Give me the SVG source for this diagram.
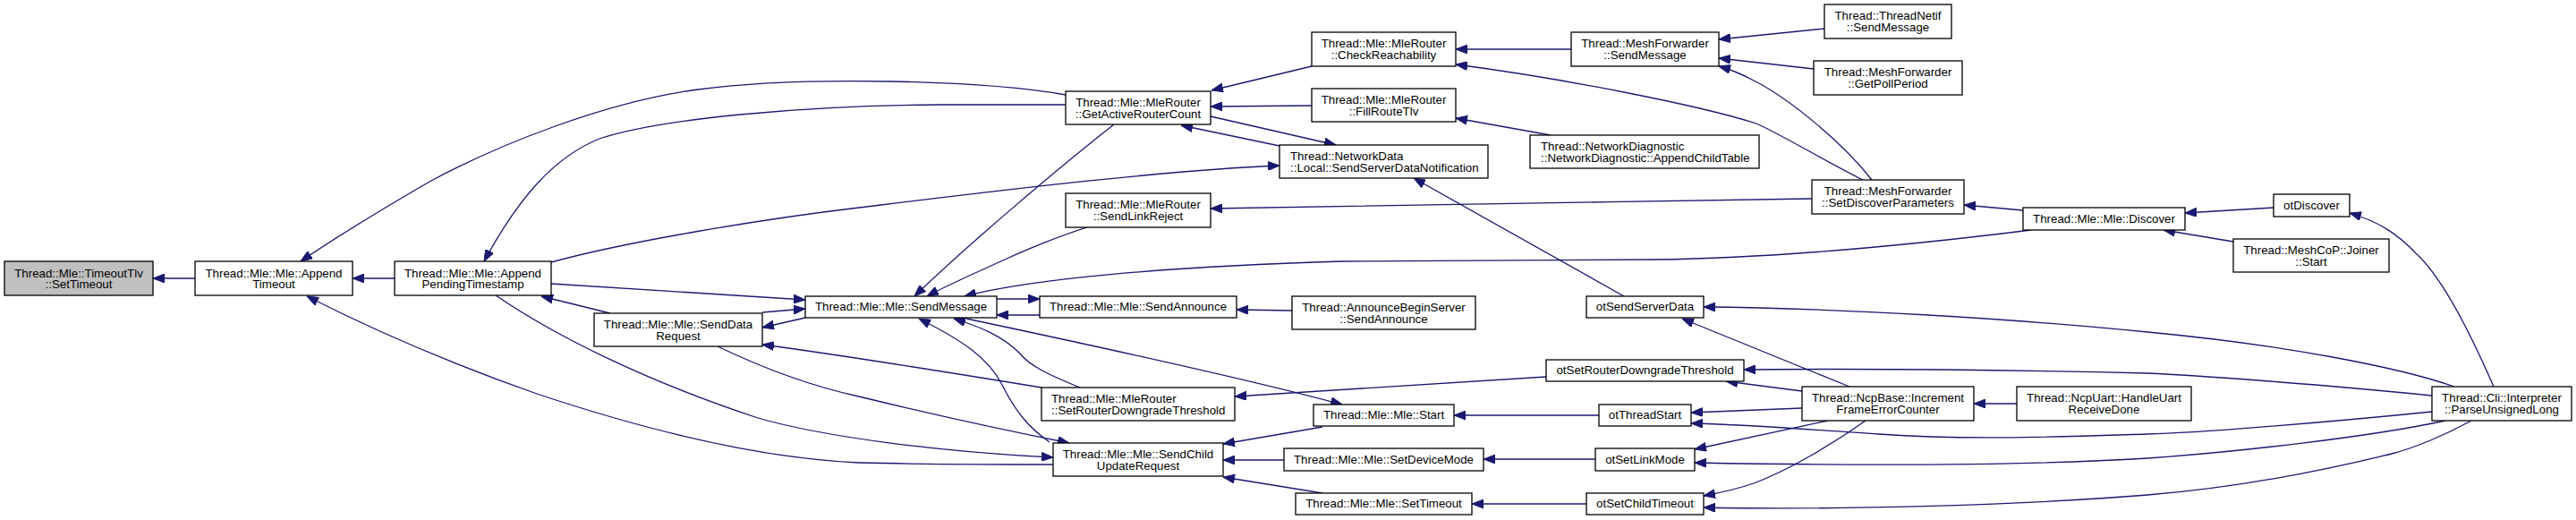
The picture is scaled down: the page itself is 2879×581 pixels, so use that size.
<svg xmlns="http://www.w3.org/2000/svg" width="2879" height="581" viewBox="0 0 2879 581">
<style>
.n rect{fill:#fff;stroke:#000;stroke-width:1.3}
.g rect{fill:#bfbfbf}
text{font-family:"Liberation Sans",Arial,Helvetica,sans-serif;font-size:13.3px;fill:#000;text-anchor:middle}
text.l{text-anchor:start}
#edges path{fill:none;stroke:#191970;stroke-width:1.3;marker-end:url(#ah)}
</style>
<defs>
<marker id="ah" viewBox="0 0 13 10" refX="13" refY="5" markerWidth="13" markerHeight="10" markerUnits="userSpaceOnUse" orient="auto">
<path d="M0,0 L13,5 L0,10 z" fill="#191970" stroke="#191970" stroke-width="1"/>
</marker>
</defs>
<rect width="2879" height="581" fill="#fff"/>
<g id="edges">
<path d="M218,311 L171,311"/>
<path d="M441,311 L394,311"/>
<path d="M1191,106 C1100,90 900,84 780,100 C680,113 560,160 480,203 C430,232 380,262 336,292"/>
<path d="M1191,117 L1050,117 C900,118 740,132 670,155 C620,175 580,220 541,292"/>
<path d="M616,293 C700,270 850,245 960,232 C1100,215 1300,190 1430,185"/>
<path d="M616,317 L900,335"/>
<path d="M852,349 L900,345"/>
<path d="M900,355 L852,366"/>
<path d="M682,350 L605,331"/>
<path d="M1164,433 C1060,416 920,394 852,385"/>
<path d="M802,387 C850,410 900,430 960,443 C1050,465 1130,482 1195,495"/>
<path d="M554,330 C620,375 720,425 847,467 C920,488 1050,505 1177,511"/>
<path d="M1177,519 C1100,519 1000,518 960,517 C850,512 720,480 600,440 C500,405 420,370 343,331"/>
<path d="M1245,139 C1180,190 1080,275 1022,331"/>
<path d="M1215,254 C1180,265 1140,282 1123,290 C1090,305 1060,318 1036,331"/>
<path d="M2270,257 C2150,272 2000,288 1850,290 L1500,292 C1300,298 1150,312 1078,331"/>
<path d="M1114,334 L1162,334"/>
<path d="M1162,352 L1114,352"/>
<path d="M1444,347 L1382,346"/>
<path d="M1173,494 C1150,478 1135,460 1120,430 C1105,400 1075,380 1027,356"/>
<path d="M1207,433 C1170,418 1150,408 1140,395 C1120,375 1095,365 1066,356"/>
<path d="M1080,356 C1250,392 1400,425 1500,452"/>
<path d="M1728,421 C1600,430 1480,437 1380,443"/>
<path d="M1478,477 L1367,496"/>
<path d="M1435,514 L1367,514"/>
<path d="M1478,551 L1367,533"/>
<path d="M1466,74 L1354,101"/>
<path d="M1466,118 L1353,119"/>
<path d="M1353,130 L1493,162"/>
<path d="M1430,163 L1320,140"/>
<path d="M1756,55 L1627,55"/>
<path d="M2082,201 C2040,180 1990,150 1963,138 C1900,118 1750,88 1627,72"/>
<path d="M2092,201 C2060,160 2000,110 1960,90 C1945,82 1932,77 1921,74"/>
<path d="M1733,151 L1627,132"/>
<path d="M1815,331 L1580,199"/>
<path d="M2039,32 L1921,44"/>
<path d="M2027,77 L1921,65"/>
<path d="M2261,235 L2195,229"/>
<path d="M2541,232 L2442,238"/>
<path d="M2496,270 L2418,257"/>
<path d="M2787,432 C2760,370 2730,310 2700,283 C2680,262 2660,248 2626,238"/>
<path d="M2743,432 C2680,410 2550,385 2400,371 C2250,356 2050,344 1904,343"/>
<path d="M2067,432 L1880,356"/>
<path d="M2718,442 C2600,430 2450,419 2400,417 C2200,412 2050,412 1949,413"/>
<path d="M2014,437 L1929,426"/>
<path d="M2254,451 L2206,451"/>
<path d="M2014,456 L1890,461"/>
<path d="M2718,460 C2600,472 2450,484 2400,485 C2300,488 2200,492 2100,485 C2020,480 1950,474 1890,473"/>
<path d="M2043,470 L1894,502"/>
<path d="M2733,470 C2650,488 2500,505 2400,512 C2250,521 2050,520 1894,517"/>
<path d="M2085,470 C2050,495 2000,525 1960,540 C1940,547 1920,551 1904,554"/>
<path d="M2762,470 C2735,485 2700,500 2673,507 C2600,525 2500,545 2400,553 C2250,565 2050,570 1904,567"/>
<path d="M1787,464 L1625,464"/>
<path d="M1783,513 L1658,513"/>
<path d="M1773,563 L1645,563"/>
<path d="M2025,222 C1800,225 1600,230 1353,233"/>
</g>
<g id="n1" class="n g"><rect x="5" y="292" width="166" height="38"/><text x="88" y="309.5">Thread::Mle::TimeoutTlv</text><text x="88" y="322.4">::SetTimeout</text></g>
<g id="n2" class="n"><rect x="218" y="292" width="176" height="38"/><text x="306" y="309.5">Thread::Mle::Mle::Append</text><text x="306" y="322.4">Timeout</text></g>
<g id="n3" class="n"><rect x="441" y="292" width="175" height="38"/><text x="528.5" y="309.5">Thread::Mle::Mle::Append</text><text x="528.5" y="322.4">PendingTimestamp</text></g>
<g id="n4" class="n"><rect x="664" y="350" width="188" height="37"/><text x="758" y="367.3">Thread::Mle::Mle::SendData</text><text x="758" y="380.2">Request</text></g>
<g id="n5" class="n"><rect x="900" y="331" width="214" height="24"/><text x="1007" y="347.3">Thread::Mle::Mle::SendMessage</text></g>
<g id="n6" class="n"><rect x="1191" y="102" width="162" height="37"/><text x="1272" y="119.3">Thread::Mle::MleRouter</text><text x="1272" y="132.2">::GetActiveRouterCount</text></g>
<g id="n7" class="n"><rect x="1191" y="216" width="162" height="38"/><text x="1272" y="233.3">Thread::Mle::MleRouter</text><text x="1272" y="246.2">::SendLinkReject</text></g>
<g id="n8" class="n"><rect x="1162" y="331" width="220" height="24"/><text x="1272" y="347.3">Thread::Mle::Mle::SendAnnounce</text></g>
<g id="n9" class="n"><rect x="1164" y="433" width="216" height="37"/><text class="l" x="1175" y="450.3">Thread::Mle::MleRouter</text><text class="l" x="1175" y="463.2">::SetRouterDowngradeThreshold</text></g>
<g id="n10" class="n"><rect x="1177" y="495" width="190" height="37"/><text x="1272" y="512.3">Thread::Mle::Mle::SendChild</text><text x="1272" y="525.2">UpdateRequest</text></g>
<g id="n11" class="n"><rect x="1430" y="162" width="233" height="37"/><text class="l" x="1442" y="179.3">Thread::NetworkData</text><text class="l" x="1442" y="192.2">::Local::SendServerDataNotification</text></g>
<g id="n12" class="n"><rect x="1466" y="36" width="161" height="38"/><text x="1546.5" y="53.3">Thread::Mle::MleRouter</text><text x="1546.5" y="66.2">::CheckReachability</text></g>
<g id="n13" class="n"><rect x="1466" y="99" width="161" height="37"/><text x="1546.5" y="116.3">Thread::Mle::MleRouter</text><text x="1546.5" y="129.2">::FillRouteTlv</text></g>
<g id="n14" class="n"><rect x="1756" y="36" width="165" height="38"/><text x="1838.5" y="53.3">Thread::MeshForwarder</text><text x="1838.5" y="66.2">::SendMessage</text></g>
<g id="n15" class="n"><rect x="1710" y="151" width="256" height="37"/><text class="l" x="1722" y="168.3">Thread::NetworkDiagnostic</text><text class="l" x="1722" y="181.2">::NetworkDiagnostic::AppendChildTable</text></g>
<g id="n16" class="n"><rect x="2039" y="5" width="142" height="38"/><text x="2110" y="22.3">Thread::ThreadNetif</text><text x="2110" y="35.2">::SendMessage</text></g>
<g id="n17" class="n"><rect x="2027" y="68" width="166" height="38"/><text x="2110" y="85.3">Thread::MeshForwarder</text><text x="2110" y="98.2">::GetPollPeriod</text></g>
<g id="n18" class="n"><rect x="2025" y="201" width="170" height="38"/><text x="2110" y="218.3">Thread::MeshForwarder</text><text x="2110" y="231.2">::SetDiscoverParameters</text></g>
<g id="n19" class="n"><rect x="2261" y="232" width="181" height="25"/><text x="2351.5" y="248.6">Thread::Mle::Mle::Discover</text></g>
<g id="n20" class="n"><rect x="2541" y="217" width="85" height="25"/><text x="2583.5" y="233.6">otDiscover</text></g>
<g id="n21" class="n"><rect x="2496" y="267" width="174" height="37"/><text x="2583" y="284.3">Thread::MeshCoP::Joiner</text><text x="2583" y="297.2">::Start</text></g>
<g id="n22" class="n"><rect x="2718" y="432" width="156" height="38"/><text x="2796" y="449.3">Thread::Cli::Interpreter</text><text x="2796" y="462.2">::ParseUnsignedLong</text></g>
<g id="n23" class="n"><rect x="1444" y="331" width="205" height="37"/><text x="1546.5" y="347.8">Thread::AnnounceBeginServer</text><text x="1546.5" y="360.7">::SendAnnounce</text></g>
<g id="n24" class="n"><rect x="1773" y="331" width="131" height="24"/><text x="1838.5" y="347.3">otSendServerData</text></g>
<g id="n25" class="n"><rect x="1728" y="402" width="221" height="24"/><text x="1838.5" y="418.3">otSetRouterDowngradeThreshold</text></g>
<g id="n26" class="n"><rect x="1468" y="452" width="157" height="24"/><text x="1546.5" y="468.3">Thread::Mle::Mle::Start</text></g>
<g id="n27" class="n"><rect x="1787" y="452" width="103" height="24"/><text x="1838.5" y="468.3">otThreadStart</text></g>
<g id="n28" class="n"><rect x="1435" y="501" width="223" height="25"/><text x="1546.5" y="517.6">Thread::Mle::Mle::SetDeviceMode</text></g>
<g id="n29" class="n"><rect x="1783" y="501" width="111" height="25"/><text x="1838.5" y="517.6">otSetLinkMode</text></g>
<g id="n30" class="n"><rect x="1448" y="551" width="197" height="24"/><text x="1546.5" y="567.3">Thread::Mle::Mle::SetTimeout</text></g>
<g id="n31" class="n"><rect x="1773" y="551" width="131" height="24"/><text x="1838.5" y="567.3">otSetChildTimeout</text></g>
<g id="n32" class="n"><rect x="2014" y="432" width="192" height="38"/><text x="2110" y="449.3">Thread::NcpBase::Increment</text><text x="2110" y="462.2">FrameErrorCounter</text></g>
<g id="n33" class="n"><rect x="2254" y="432" width="195" height="38"/><text x="2351.5" y="449.3">Thread::NcpUart::HandleUart</text><text x="2351.5" y="462.2">ReceiveDone</text></g>
</svg>
